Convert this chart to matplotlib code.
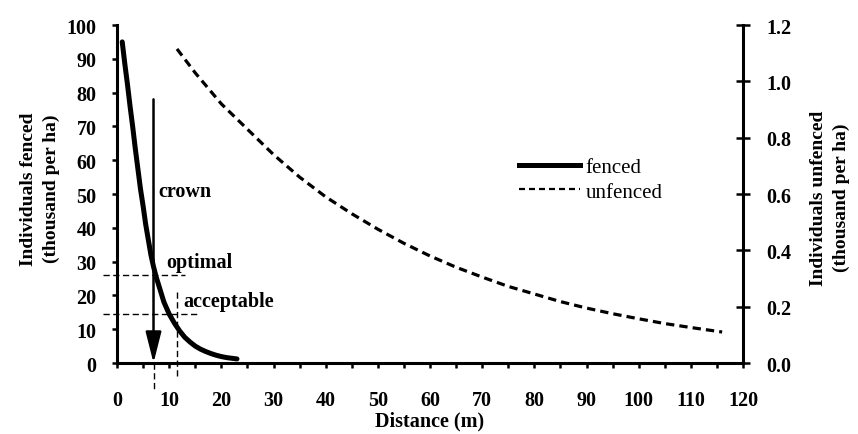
import matplotlib
matplotlib.use("Agg")
import matplotlib.pyplot as plt
from matplotlib.ticker import MultipleLocator, FormatStrFormatter
from matplotlib.lines import Line2D

# ---- data ----
fenced_x = [1, 1.5, 2, 2.5, 3, 3.5, 4, 4.5, 5, 5.5, 6, 6.5, 7, 7.5, 8, 9, 10, 11, 12, 13, 14,
            15, 16, 17, 18, 19, 20, 21, 22, 23]
fenced_y = [95, 88.5, 82.5, 76, 70, 63.5, 57.5, 51.5, 46.5, 41, 36.5, 32, 28.5, 25.5, 23, 18,
            14.5, 11.8, 9.5, 7.6, 6.2, 5.0, 4.1, 3.4, 2.8, 2.3, 1.9, 1.6, 1.4, 1.2]

unfenced_x = [11.5, 15, 20, 25, 30, 35, 40, 45, 50, 55, 60, 65, 70, 75, 80, 85, 90, 95, 100, 105, 110, 116]
unfenced_y = [1.115, 1.03, 0.92, 0.83, 0.74, 0.66, 0.59, 0.53, 0.475, 0.425, 0.38, 0.34, 0.305,
              0.272, 0.245, 0.218, 0.195, 0.175, 0.157, 0.140, 0.126, 0.110]

crown_distance = 7
crown_top = 78
optimal_density = 26
acceptable_density = 14.5
acceptable_distance = 11.5

x_ticks = list(range(0, 121, 10))
left_ticks = list(range(0, 101, 10))
right_ticks = [0.0, 0.2, 0.4, 0.6, 0.8, 1.0, 1.2]

FONT = "Liberation Serif"
plt.rcParams['font.family'] = [FONT, 'DejaVu Serif']

fig = plt.figure(figsize=(8.58, 4.35), dpi=100)
ax = fig.add_axes([117/858, 1-364/435, 626/858, 338/435])
ax2 = ax.twinx()

ax.set_xlim(0, 120)
ax.set_ylim(0, 100)
ax2.set_ylim(0, 1.2)

spine_lw = 2.2
for s in ['top', 'right']:
    ax.spines[s].set_visible(False)
for s in ['left', 'bottom']:
    ax.spines[s].set_linewidth(spine_lw)
for s in ['top', 'left', 'bottom']:
    ax2.spines[s].set_visible(False)
ax2.spines['right'].set_linewidth(spine_lw)

ax.set_xticks(x_ticks)
ax.xaxis.set_minor_locator(MultipleLocator(5))
ax.set_yticks(left_ticks)
ax2.set_yticks(right_ticks)
ax2.yaxis.set_major_formatter(FormatStrFormatter('%.1f'))

ax.tick_params(axis='x', which='both', direction='out', length=3.6, width=1.8, pad=16,
               labelsize=14.5)
ax.tick_params(axis='y', direction='out', length=3.6, width=1.8, pad=11, labelsize=14.5)
ax2.tick_params(axis='y', direction='inout', length=9.4, width=1.8, pad=12, labelsize=14.5)
for lab in ax.get_xticklabels() + ax.get_yticklabels() + ax2.get_yticklabels():
    lab.set_fontweight('bold')

# curves
ax.plot(fenced_x, fenced_y, color='black', lw=3.6, solid_capstyle='round',
        solid_joinstyle='round')
ax2.plot(unfenced_x, unfenced_y, color='black', lw=2.3, linestyle=(0, (2.6, 1.6)))

# annotation lines
ax.annotate('', xy=(crown_distance, 0), xytext=(crown_distance, crown_top),
            arrowprops=dict(arrowstyle='-|>,head_length=0.95,head_width=0.24', lw=1.8,
                            color='black', mutation_scale=20, shrinkA=0, shrinkB=0))
dash = (0, (4.5, 2.5))
ax.plot([-2.6, 13.1], [optimal_density, optimal_density], color='black', lw=1.0,
        linestyle=dash, clip_on=False)
ax.plot([-2.6, 15.6], [acceptable_density, acceptable_density], color='black', lw=1.0,
        linestyle=dash, clip_on=False)
ax.plot([crown_distance, crown_distance], [0, -7.7], color='black', lw=1.0,
        linestyle=dash, clip_on=False)
ax.plot([acceptable_distance, acceptable_distance], [21, -3.8], color='black', lw=1.0,
        linestyle=dash, clip_on=False)

ax.text(7.9, 51, 'crown', fontsize=14.5, fontweight='bold', ha='left', va='center')
ax.text(9.5, 29.8, 'optimal', fontsize=14.5, fontweight='bold', ha='left', va='center')
ax.text(12.7, 18.4, 'acceptable', fontsize=14.5, fontweight='bold', ha='left', va='center')

# legend
handles = [Line2D([], [], color='black', lw=3.6),
           Line2D([], [], color='black', lw=1.6, linestyle=(0, (2.7, 1.8)))]
ax.legend(handles, ['fenced', 'unfenced'], loc='center left',
          bbox_to_anchor=(0.642, 0.543), frameon=False, fontsize=15,
          handlelength=2.95, handletextpad=0.25, labelspacing=0.25, borderpad=0,
          borderaxespad=0)

ax.set_xlabel('Distance (m)', fontsize=14.5, fontweight='bold', labelpad=0)
fig.text(40/858, 1-189/435, 'Individuals fenced\n(thousand per ha)', rotation=90,
         ha='center', va='center', fontsize=14, fontweight='bold', linespacing=1.4)
fig.text(830/858, 1-198/435, 'Individuals unfenced\n(thousand per ha)', rotation=90,
         ha='center', va='center', fontsize=14, fontweight='bold', linespacing=1.4)

fig.savefig('out.png', dpi=100)
